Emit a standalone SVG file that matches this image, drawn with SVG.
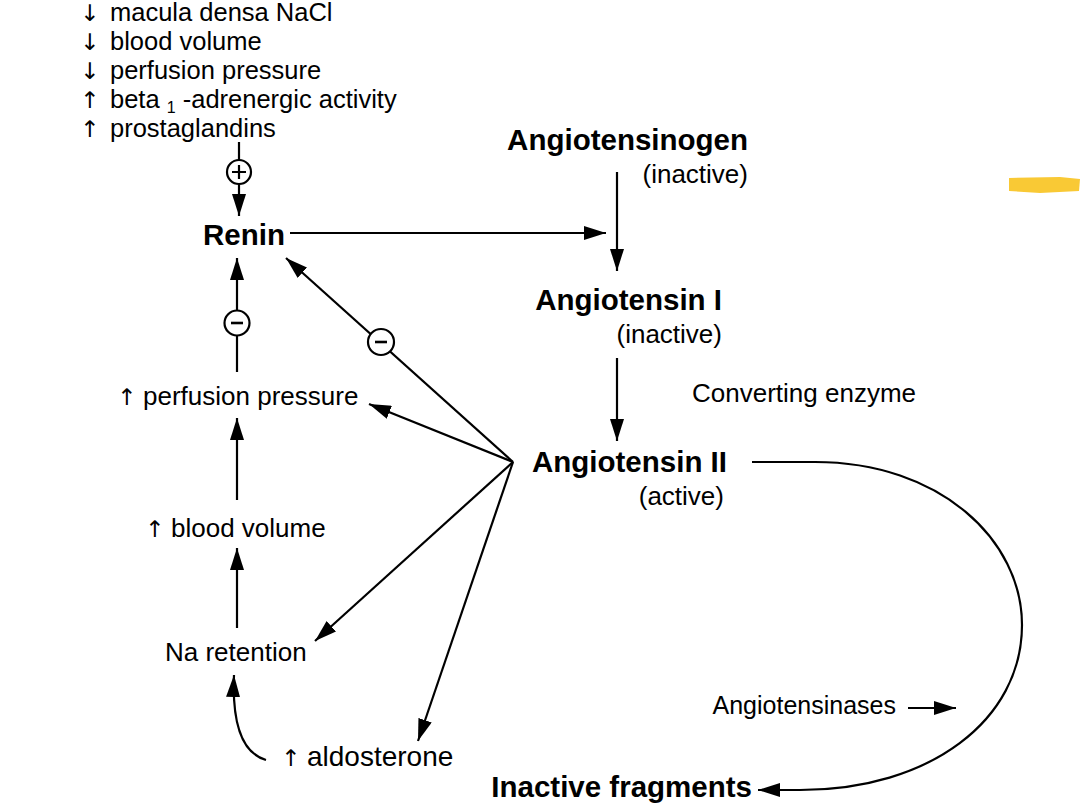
<svg xmlns="http://www.w3.org/2000/svg" width="1080" height="810" viewBox="0 0 1080 810">
<defs>
<marker id="ah" markerUnits="userSpaceOnUse" markerWidth="24" markerHeight="14" refX="22" refY="7" orient="auto">
<path d="M0,0 L22,7 L0,14 Z" fill="#000"/>
</marker>
<style>
text{font-family:"Liberation Sans",Arial,sans-serif;fill:#000}
.r{font-size:26px}
.t{font-size:25.5px}
.b{font-size:29.5px;font-weight:bold}
.s{font-size:25px}
.ar{font-family:"DejaVu Sans",sans-serif;font-size:23px}
.c{stroke:#000;stroke-width:2.2;fill:none}
.a{marker-end:url(#ah)}
.sym{stroke:#000;stroke-width:2.2;fill:#fff}
</style>
</defs>
<rect width="1080" height="810" fill="#fff"/>
<path d="M1009,178 L1060,177 L1080,179 L1079,191 L1040,193 L1009,191 Z" fill="#F9C935"/>
<g id="stimuli">
<text class="ar" x="80" y="21">↓</text><text class="t" x="110" y="21">macula densa NaCl</text>
<text class="ar" x="80" y="50">↓</text><text class="t" x="110" y="50">blood volume</text>
<text class="ar" x="80" y="79">↓</text><text class="t" x="110" y="79">perfusion pressure</text>
<text class="ar" x="80" y="108">↑</text><text class="t" x="110" y="108">beta <tspan font-size="16" dy="5">1</tspan><tspan dy="-5"> -adrenergic activity</tspan></text>
<text class="ar" x="80" y="137">↑</text><text class="t" x="110" y="137">prostaglandins</text>
</g>
<g id="renin"><text class="b" x="203" y="245">Renin</text></g>
<g id="angiotensinogen">
<text class="b" x="748" y="150" text-anchor="end">Angiotensinogen</text>
<text class="r" x="748" y="183" text-anchor="end">(inactive)</text>
</g>
<g id="angiotensin1">
<text class="b" x="722" y="310" text-anchor="end">Angiotensin I</text>
<text class="r" x="722" y="343" text-anchor="end">(inactive)</text>
</g>
<g id="converting"><text class="r" x="692" y="402">Converting enzyme</text></g>
<g id="angiotensin2">
<text class="b" x="727" y="472" text-anchor="end">Angiotensin II</text>
<text class="r" x="724" y="505" text-anchor="end">(active)</text>
</g>
<g id="perfusion"><text class="ar" x="117" y="405">↑</text><text class="r" x="143" y="405">perfusion pressure</text></g>
<g id="bloodvol"><text class="ar" x="145" y="537">↑</text><text class="r" x="171" y="537">blood volume</text></g>
<g id="naret"><text class="r" x="165" y="661">Na retention</text></g>
<g id="aldo"><text class="ar" x="281" y="766">↑</text><text class="r" x="307" y="766" style="font-size:28px">aldosterone</text></g>
<g id="angiotensinases"><text class="s" x="896" y="714" text-anchor="end">Angiotensinases</text></g>
<g id="fragments"><text class="b" x="752" y="797" text-anchor="end">Inactive fragments</text></g>
<g id="connectors">
<line class="c" x1="239" y1="142" x2="239" y2="160"/>
<line class="c a" x1="239" y1="184" x2="239" y2="216"/>
<line class="c a" x1="290" y1="233" x2="606" y2="233"/>
<line class="c a" x1="617" y1="172" x2="617" y2="271"/>
<line class="c a" x1="617" y1="358" x2="617" y2="441"/>
<line class="c a" x1="237" y1="372" x2="237" y2="258"/>
<line class="c a" x1="513" y1="462" x2="286" y2="258"/>
<line class="c a" x1="513" y1="462" x2="369" y2="404"/>
<line class="c a" x1="513" y1="462" x2="315" y2="641"/>
<line class="c a" x1="513" y1="462" x2="418" y2="741"/>
<line class="c a" x1="237" y1="500" x2="237" y2="418"/>
<line class="c a" x1="237" y1="628" x2="237" y2="548"/>
<path class="c a" d="M266,760 C242,753 232,722 234,675"/>
<path class="c a" d="M752,462 L815,462 C940,462 1022,540 1022,625 C1022,720 930,790 800,790 L758,790"/>
<line class="c a" x1="908" y1="708" x2="956" y2="708"/>
</g>
<g id="signs">
<circle class="sym" cx="239" cy="172" r="12"/>
<path d="M232,172 H246 M239,165 V179" stroke="#000" stroke-width="2.2"/>
<circle class="sym" cx="237" cy="323" r="12.5"/>
<path d="M231,323 H243" stroke="#000" stroke-width="2.6"/>
<circle class="sym" cx="381" cy="342" r="13"/>
<path d="M375,342 H387" stroke="#000" stroke-width="2.6"/>
</g>
</svg>
